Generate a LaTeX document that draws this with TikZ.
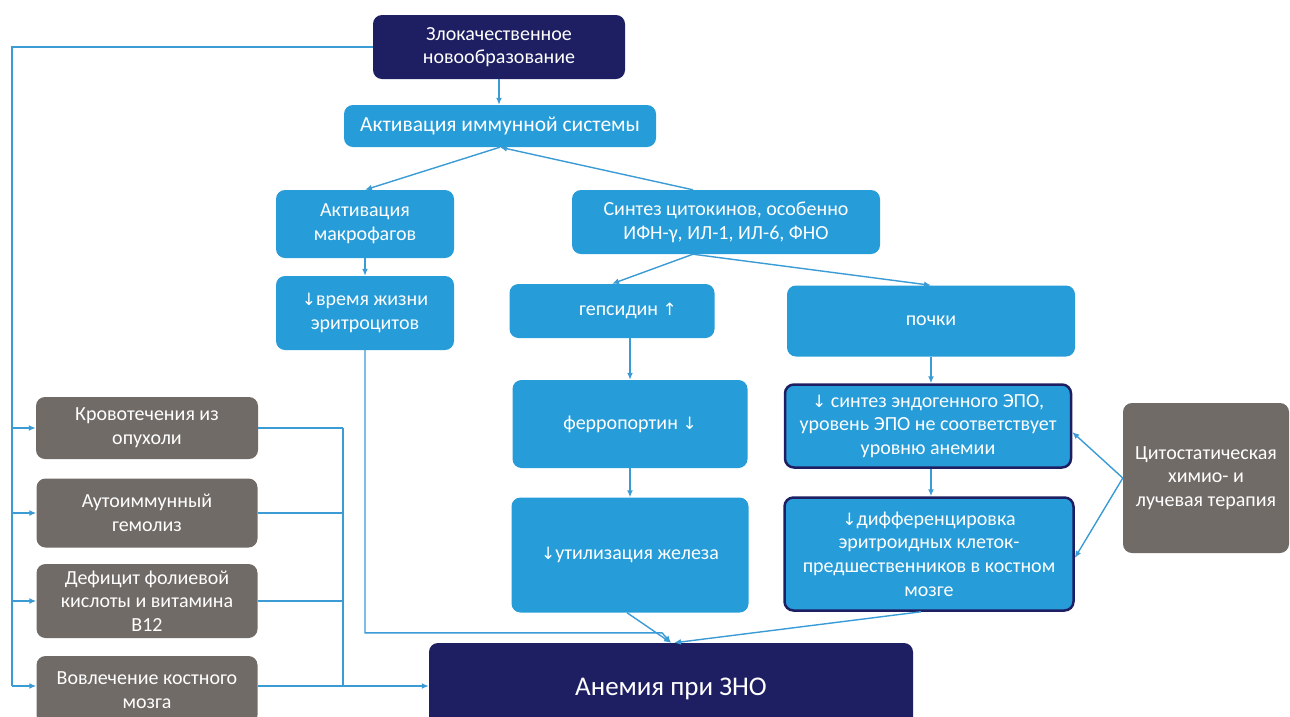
\documentclass[tikz,border=0pt]{standalone}
\usepackage{fontspec}
\setmainfont{Carlito}
\newfontfamily\arrowfont{DejaVu Sans}
\usetikzlibrary{arrows.meta}
\definecolor{navy}{RGB}{30,31,98}
\definecolor{cblue}{RGB}{38,156,216}
\definecolor{cgray}{RGB}{113,107,103}
\definecolor{cline}{RGB}{58,155,213}
\newcommand{\dnarr}{{\arrowfont\fontsize{17}{24}\selectfont ↓}}
\newcommand{\uparr}{{\arrowfont\fontsize{17}{24}\selectfont ↑}}
\begin{document}
\begin{tikzpicture}[x=1pt,y=-1pt,
  box/.style={rounded corners=9pt,align=center,text=white,inner sep=0pt,font=\fontsize{20}{23.7}\selectfont},
  bluebox/.style={box,fill=cblue},
  ringbox/.style={box,fill=cblue,draw=navy,line width=2.5pt},
  navybox/.style={box,fill=navy},
  graybox/.style={box,fill=cgray},
  link/.style={draw=cline,line width=1.4pt},
  arr/.style={link,-{Latex[length=7pt,width=6pt]}}]
\path[use as bounding box,clip] (0,0) rectangle (1290,716);
\node[navybox,minimum width=252,minimum height=64] (tumor) at (499,47) {Злокачественное\\новообразование};
\node[bluebox,minimum width=312,minimum height=42,font=\fontsize{21.5}{24}\selectfont] (immune) at (500,126) {Активация иммунной системы};
\node[bluebox,minimum width=178,minimum height=68] (macro) at (365,224) {Активация\\макрофагов};
\node[bluebox,minimum width=308,minimum height=64] (cyto) at (726,222) {Синтез цитокинов, особенно\\ИФН-γ, ИЛ-1, ИЛ-6, ФНО};
\node[bluebox,minimum width=178,minimum height=74] (life) at (365,313) {\dnarr время жизни\\эритроцитов};
\node[bluebox,minimum width=205,minimum height=54] (hepc) at (612,311) {\hspace*{32pt}гепсидин \uparr};
\node[bluebox,minimum width=288,minimum height=71] (kidney) at (931,321) {почки};
\node[bluebox,minimum width=235,minimum height=88] (ferro) at (630,424) {ферропортин \dnarr};
\node[bluebox,minimum width=237,minimum height=115] (iron) at (630,555) {\dnarr утилизация железа};
\node[ringbox,minimum width=286,minimum height=83] (epo) at (928,426) {\dnarr{} синтез эндогенного ЭПО,\\уровень ЭПО не соответствует\\уровню анемии};
\node[ringbox,minimum width=289,minimum height=113] (diff) at (929,554) {\dnarr дифференцировка\\эритроидных клеток-\\предшественников в костном\\мозге};
\node[graybox,minimum width=166,minimum height=150] (chemo) at (1206,478) {Цитостатическая\\химио- и\\лучевая терапия};
\node[navybox,minimum width=484,minimum height=92,font=\fontsize{27}{30}\selectfont] (anemia) at (671,689) {Анемия при ЗНО};
\node[graybox,minimum width=222,minimum height=62] (bleed) at (147,428) {Кровотечения из\\опухоли};
\node[graybox,minimum width=221,minimum height=69] (hemol) at (147,513) {Аутоиммунный\\гемолиз};
\node[graybox,minimum width=221,minimum height=74] (folic) at (147,601) {Дефицит фолиевой\\кислоты и витамина\\В12};
\node[graybox,minimum width=221,minimum height=68] (marrow) at (147,690) {Вовлечение костного\\мозга};
\coordinate (busL) at (12,0);
\coordinate (busR) at (343,0);
\coordinate (mrow) at (0,686);
\draw[link] (tumor.west) -| (busL |- mrow);
\draw[arr] (busL |- bleed.west) -- (bleed.west);
\draw[arr] (busL |- hemol.west) -- (hemol.west);
\draw[arr] (busL |- folic.west) -- (folic.west);
\draw[arr] (busL |- mrow) -- (marrow.west |- mrow);
\draw[link] (bleed.east) -- (busR |- bleed.east);
\draw[link] (hemol.east) -- (busR |- hemol.east);
\draw[link] (folic.east) -- (busR |- folic.east);
\draw[link] (busR |- bleed.east) -- (busR |- mrow);
\draw[arr] (marrow.east |- mrow) -- (anemia.west |- mrow);
\draw[arr] (tumor.south) -- (tumor.south |- immune.north);
\draw[arr] (immune.south) -- (macro.north);
\draw[arr] ([xshift=-33pt]cyto.north) -- (immune.south);
\draw[arr] (macro) -- (life);
\draw[arr] ([xshift=-33pt]cyto.south) -- (hepc.north);
\draw[arr] ([xshift=-33pt]cyto.south) -- (kidney.north);
\draw[arr] (hepc.south -| ferro.north) -- (ferro.north);
\draw[arr] (ferro) -- (iron);
\draw[arr] (kidney.south) -- (kidney.south |- epo.north);
\draw[arr] (epo.south -| kidney.south) -- (kidney.south |- diff.north);
\draw[arr] (chemo.west) -- ([yshift=-6pt]epo.east);
\draw[arr] (chemo.west) -- ([yshift=-4pt]diff.east);
\draw[arr] (life.south) |- ([xshift=-9pt,yshift=10pt]anemia.north) -- (anemia.north);
\draw[arr] ([xshift=-3pt]iron.south) -- (anemia.north);
\draw[arr] ([xshift=-8pt]diff.south) -- ([xshift=3pt]anemia.north);
\end{tikzpicture}
\end{document}
